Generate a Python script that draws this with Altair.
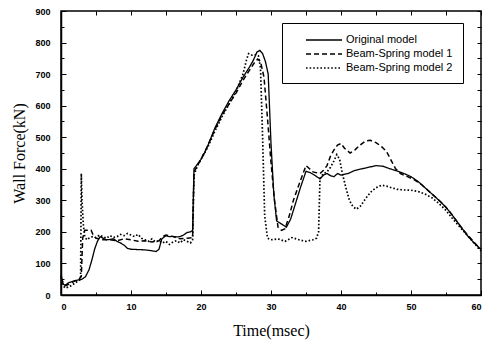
import altair as alt
import pandas as pd

# ---- data ----
t_orig = [0, 0.3, 0.6, 1.0, 1.5, 2.0, 2.5, 3.0, 3.5, 4.0,
          4.4, 4.8, 5.2, 5.6, 6.0, 6.5, 7.0, 7.5, 8.0, 8.5,
          9.0, 9.5, 10.0, 11.0, 12.0, 13.0, 13.6, 14.0, 14.4, 15.0,
          15.5, 16.0, 16.5, 17.0, 17.5, 18.0, 18.5, 18.8, 19.0, 19.5,
          20.0, 20.5, 21.0, 22.0, 23.0, 24.0, 25.0, 26.0, 27.0, 27.5,
          28.0, 28.4, 28.8, 29.2, 29.6, 30.0, 30.4, 30.8, 31.5, 32.2,
          32.8, 33.5, 34.2, 35.0, 35.6, 36.2, 37.0, 37.5, 38.0, 38.5,
          39.0, 39.5, 40.0, 41.0, 42.0, 43.0, 44.0, 45.0, 46.0, 47.0,
          48.0, 49.0, 50.0, 51.0, 52.0, 53.0, 54.0, 55.0, 56.0, 57.0,
          58.0, 59.0, 60.0]
v_orig = [65, 35, 30, 38, 42, 45, 48, 50, 58, 80,
          110, 145, 170, 185, 180, 175, 176, 178, 170, 165,
          158, 148, 145, 144, 143, 140, 138, 145, 178, 188,
          185, 186, 184, 185, 190, 198, 200, 205, 400, 415,
          430, 450, 475, 530, 575, 615, 650, 690, 725, 745,
          770, 775, 765, 740, 700, 480, 320, 235, 225, 215,
          240, 290, 340, 392, 388, 380, 368, 380, 385, 378,
          375, 385, 380, 385, 395, 400, 405, 410, 408, 400,
          393, 385, 375, 360, 340, 320, 300, 278, 250, 220,
          190, 165, 145]

t_bs1 = [0, 0.3, 0.7, 1.2, 2.0, 2.6, 2.9, 3.1, 3.4, 3.8,
         4.3, 4.6, 5.0, 5.5, 6.0, 7.0, 8.0, 9.0, 10.0, 11.0,
         12.0, 13.0, 14.0, 14.5, 15.0, 16.0, 17.0, 18.0, 18.8, 19.0,
         19.5, 20.0, 21.0, 22.0, 23.0, 24.0, 25.0, 26.0, 27.0, 27.6,
         28.1, 28.5, 29.0, 29.5, 30.0, 30.5, 31.0, 31.5, 32.0, 32.6,
         33.2, 34.0, 35.0, 35.5, 36.0, 37.0, 37.5, 38.0, 38.5, 39.0,
         39.5, 40.0, 40.5, 41.3, 42.0, 42.7, 43.5, 44.2, 45.0, 45.8,
         46.5, 47.2, 47.8, 48.5, 49.5, 50.5, 51.5, 52.5, 53.5, 54.5,
         55.5, 56.5, 57.5, 58.5, 59.5, 60.0]
v_bs1 = [55, 40, 30, 35, 45, 50, 60, 180, 205, 205,
         205, 190, 180, 178, 175, 175, 172, 178, 175, 170,
         172, 168, 172, 185, 190, 185, 178, 180, 182, 390,
         410, 430, 475, 525, 570, 605, 640, 680, 715, 735,
         748, 740, 690, 560, 420, 300, 215, 205, 210, 250,
         300, 350, 410, 400, 390, 385, 395, 410, 440, 460,
         475, 480, 465, 450, 460, 475, 488, 490, 483, 470,
         455, 425, 400, 385, 375, 365, 350, 330, 310, 290,
         265, 235, 205, 180, 155, 145]

t_bs2 = [0, 0.3, 0.6, 1.0, 1.5, 2.0, 2.5, 2.8, 2.9, 3.0,
         3.2, 3.4, 3.7, 4.0, 4.5, 5.0, 5.5, 6.0, 6.5, 7.0,
         7.5, 8.0, 8.5, 9.0, 9.5, 10.0, 10.5, 11.0, 11.5, 12.0,
         12.5, 13.0, 13.5, 14.0, 14.5, 15.0, 15.5, 16.0, 16.5, 17.0,
         17.5, 18.0, 18.5, 18.8, 19.0, 19.5, 20.0, 21.0, 22.0, 23.0,
         24.0, 25.0, 26.0, 26.5, 26.8, 27.3, 27.8, 28.2, 28.5, 28.8,
         29.1, 29.5, 30.0, 31.0, 32.0, 33.0, 34.0, 35.0, 36.0, 36.5,
         36.8, 37.0, 37.5, 38.0, 38.5, 39.0, 39.4, 39.8, 40.2, 40.7,
         41.2, 41.7, 42.2, 42.8, 43.5, 44.2, 45.0, 45.8, 46.5, 47.2,
         48.0, 49.0, 50.0, 51.0, 52.0, 53.0, 54.0, 55.0, 56.0, 57.0,
         58.0, 59.0, 60.0]
v_bs2 = [60, 30, 22, 25, 30, 38, 45, 50, 385, 300,
         220, 185, 175, 180, 185, 182, 190, 185, 180, 188,
         182, 185, 192, 188, 195, 190, 185, 192, 180, 175,
         170, 178, 168, 172, 165, 170, 160, 168, 172, 165,
         175, 170, 165, 175, 380, 410, 430, 470, 520, 565,
         605, 645, 700, 745, 765, 760, 762, 758, 720, 500,
         250, 180, 175, 178, 170, 182, 175, 170, 175, 180,
         200, 370, 385, 390, 405, 425, 445, 430, 385, 340,
         300, 280, 272, 282, 305, 325, 340, 348, 345, 340,
         335, 333, 332, 328, 320, 308, 290, 268, 240, 215,
         190, 165, 140]

series_names = ["Original model", "Beam-Spring model 1", "Beam-Spring model 2"]
x_major = [0, 10, 20, 30, 40, 50, 60]
x_minor = [5, 15, 25, 35, 45, 55]
y_major = [0, 100, 200, 300, 400, 500, 600, 700, 800, 900]
y_minor = [50, 150, 250, 350, 450, 550, 650, 750, 850]

rows = []
for name, ts, vs in zip(series_names, [t_orig, t_bs1, t_bs2], [v_orig, v_bs1, v_bs2]):
    for t, v in zip(ts, vs):
        rows.append({"t": t, "f": v, "series": name})
df = pd.DataFrame(rows)

xs = alt.Scale(domain=[0, 60], nice=False, zero=False)
ys = alt.Scale(domain=[0, 900], nice=False)

base = alt.Chart(df)

lines = base.mark_line(color="black").encode(
    x=alt.X("t:Q", scale=xs, axis=alt.Axis(
        values=x_major, orient="bottom", title="Time(msec)", grid=False,
        titleFont="Liberation Serif", titleFontSize=16, titleFontWeight="normal",
        titleColor="black", titlePadding=11,
        labelFont="Liberation Sans", labelFontWeight="bold", labelFontSize=9,
        labelColor="black", labelPadding=12, tickSize=alt.ExprRef(expr="-5"),
        tickColor="black", domainColor="black", domainWidth=1.5)),
    y=alt.Y("f:Q", scale=ys, axis=alt.Axis(
        values=y_major, orient="left", title="Wall Force(kN)", grid=False,
        titleFont="Liberation Serif", titleFontSize=16, titleFontWeight="normal",
        titleColor="black", titlePadding=7,
        labelFont="Liberation Sans", labelFontWeight="bold", labelFontSize=9,
        labelColor="black", labelPadding=16, tickSize=alt.ExprRef(expr="-5"),
        tickColor="black", domainColor="black", domainWidth=1.5)),
    strokeDash=alt.StrokeDash("series:N", scale=alt.Scale(
        domain=series_names, range=[[1, 0], [5, 3], [1.6, 2]]),
        legend=alt.Legend(title=None, orient="none", legendX=221, legendY=12,
                          symbolType="M-1,0H5", symbolSize=144, symbolStrokeWidth=1.5,
                          symbolStrokeColor="black", symbolOffset=13,
                          labelOffset=27, labelFont="Liberation Sans",
                          labelFontSize=11, labelColor="black", strokeColor="black",
                          padding=10, rowPadding=2, labelLimit=200,
                          fillColor="white")),
    strokeWidth=alt.StrokeWidth("series:N", scale=alt.Scale(
        domain=series_names, range=[1.3, 1.7, 1.7]), legend=None),
    detail="series:N",
)

minor = base.mark_point(opacity=0).encode(
    x=alt.X("t:Q", scale=xs, axis=alt.Axis(
        values=x_minor, orient="bottom", title=None, labels=False, grid=False,
        domain=False, tickSize=alt.ExprRef(expr="-3"), tickColor="black")),
    y=alt.Y("f:Q", scale=ys, axis=alt.Axis(
        values=y_minor, orient="left", title=None, labels=False, grid=False,
        domain=False, tickSize=alt.ExprRef(expr="-3"), tickColor="black")),
)

opposite = base.mark_point(opacity=0).encode(
    x=alt.X("t:Q", scale=xs, axis=alt.Axis(
        values=x_major + x_minor, orient="top", title=None, labels=False, grid=False,
        domain=False, tickSize=alt.ExprRef(expr="-4"), tickColor="black")),
    y=alt.Y("f:Q", scale=ys, axis=alt.Axis(
        values=y_major + y_minor, orient="right", title=None, labels=False, grid=False,
        domain=False, tickSize=alt.ExprRef(expr="-4"), tickColor="black")),
)

chart = alt.layer(lines, minor, opposite).resolve_axis(
    x="independent", y="independent"
).properties(
    width=420, height=284,
    autosize=alt.AutoSizeParams(type="none"),
    padding={"left": 61, "top": 11, "right": 6, "bottom": 55},
    background="white",
).configure_view(stroke="black", strokeWidth=1.5)

chart.save("out.html", embed_options={"renderer": "svg", "actions": False})
